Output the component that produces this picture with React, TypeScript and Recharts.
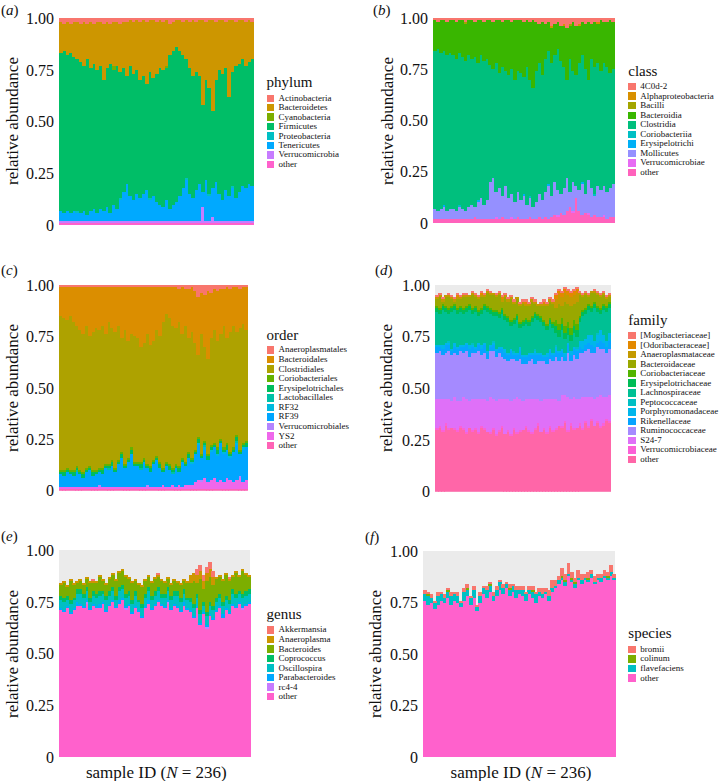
import React from 'react';
import { BarChart, Bar, XAxis, YAxis } from 'recharts';

const SERIF = 'Liberation Serif, DejaVu Serif, serif';

// 236 samples, drawn as 59 groups of four neighbouring samples
const sampleGroups = Array.from({ length: 59 }, (_, i) => `g${i + 1}`);
const yTicks = [0, 0.25, 0.5, 0.75, 1];
const yTickLabels = ['0', '0.25', '0.50', '0.75', '1.00'];

// (a) phylum, percent per sample group
const phylumActinobacteria = [2,3,2,3,2,2,3,2,3,2, 3,2,2,3,2,3,2,2,3,2, 2,1,2,1,2,1,2,1,1,2, 1,2,1,3,2,1,1,2,1,2, 1,2,1,1,2,1,1,2,1,1, 2,1,1,2,1,1,2,1,2];
const phylumBacteroidetes = [15,13,16,14,17,18,18,21,17,22, 19,23,21,27,22,19,21,21,23,22, 26,22,25,24,28,27,30,25,28,25, 23,23,22,15,14,13,15,16,19,22, 27,24,27,41,28,33,44,28,24,26, 22,37,25,21,21,19,21,20,18];
const phylumCyanobacteria = [0,0,0,0,0,0,0,0,0,0, 0,0,0,0,0,0,2,0,0,0, 0,0,0,0,0,0,0,0,0,0, 0,0,1,0,0,0,0,0,0,0, 0,0,0,0,0,0,0,0,0,0, 0,0,0,0,0,0,0,0,0];
const phylumFirmicutes = [76,78,75,77,74,73,73,70,75,69, 70,69,69,63,67,72,65,69,61,60, 52,63,61,60,57,57,51,61,57,62, 66,66,64,74,74,75,70,64,57,61, 59,57,52,42,48,51,37,49,60,61, 59,48,55,64,62,61,59,59,61];
const phylumProteobacteria = [0,0,0,0,0,1,0,0,0,0, 0,0,0,0,0,0,0,0,1,0, 0,0,0,0,0,0,0,1,0,0, 0,0,0,0,0,0,0,0,1,0, 0,0,0,0,0,1,0,0,0,0, 0,0,1,0,0,0,0,0,0];
const phylumTenericutes = [5,4,5,4,5,4,4,5,3,5, 6,4,6,5,7,4,8,6,10,14, 18,12,10,13,11,13,15,10,12,9, 8,7,10,6,8,9,12,16,20,13, 11,15,18,7,20,12,14,19,13,10, 15,12,16,11,14,17,16,18,17];
const phylumVerrucomicrobia = [1,1,1,1,1,1,1,1,1,1, 1,1,1,1,1,1,1,1,1,1, 1,1,1,1,1,1,1,1,1,1, 1,1,1,1,1,1,1,1,1,1, 1,1,1,8,1,1,3,1,1,1, 1,1,1,1,1,1,1,1,1];
const phylumOther = [1,1,1,1,1,1,1,1,1,1, 1,1,1,1,1,1,1,1,1,1, 1,1,1,1,1,1,1,1,1,1, 1,1,1,1,1,1,1,1,1,1, 1,1,1,1,1,1,1,1,1,1, 1,1,1,1,1,1,1,1,1];

// (b) class
const class4C0d2 = [1,2,1,1,2,1,1,2,1,1, 2,1,1,2,1,1,2,1,1,2, 1,1,2,1,1,2,1,1,1,2, 1,2,1,2,3,2,3,2,4,3, 2,4,3,5,3,2,4,3,2,3, 2,3,2,2,1,2,2,1,2];
const classAlphaproteobacteria = [0,0,0,0,0,0,0,0,0,0, 0,0,0,0,0,0,0,0,0,0, 0,0,0,0,0,0,0,0,0,0, 0,0,0,0,0,0,0,0,1,0, 0,0,1,0,0,0,0,1,0,0, 0,0,0,1,0,0,0,0,0];
const classBacilli = [0,0,0,0,0,0,0,0,0,0, 1,0,0,0,0,0,0,0,0,0, 0,0,0,0,0,0,0,0,0,0, 0,0,0,0,0,0,0,0,0,0, 0,0,0,0,1,0,0,0,0,0, 0,0,0,0,0,0,0,0,0];
const classBacteroidia = [15,13,16,15,16,16,17,18,16,18, 18,17,19,17,21,17,19,19,22,23, 21,26,22,25,27,23,29,25,26,27, 23,28,33,24,19,26,17,14,17,15, 13,17,20,25,16,24,24,18,16,22, 28,17,22,19,25,20,22,26,23];
const classClostridia = [77,79,76,75,76,76,75,74,74,74, 73,74,71,73,67,70,70,69,57,53, 63,56,63,56,60,61,60,59,62,57, 67,57,58,64,64,61,65,65,65,62, 69,65,59,48,65,54,54,62,62,61, 49,63,62,60,58,60,61,56,56];
const classCoriobacteriia = [0,0,0,0,0,0,0,0,1,0, 0,0,0,0,0,0,0,0,0,0, 0,0,0,0,0,0,0,0,0,0, 0,1,0,0,0,0,0,0,0,0, 0,0,0,0,0,0,0,0,0,0, 0,0,1,0,0,0,0,0,0];
const classErysipelotrichi = [0,0,0,1,0,0,0,0,0,0, 0,0,0,0,1,0,0,0,0,0, 0,0,0,0,0,0,0,0,0,1, 0,0,0,0,0,0,0,1,0,0, 0,0,0,0,0,0,0,0,1,0, 0,0,0,0,0,0,0,0,0];
const classMollicutes = [5,4,5,6,4,5,5,4,6,5, 4,6,7,5,8,10,7,9,18,20, 12,15,10,16,10,11,8,12,9,11, 7,9,6,8,11,9,12,16,10,16, 12,9,13,16,7,14,6,10,15,9, 16,14,9,15,13,14,13,14,16];
const classVerrucomicrobiae = [0,0,0,0,0,0,0,0,0,0, 0,0,0,0,0,0,0,0,0,0, 1,0,0,0,0,1,0,0,0,0, 0,0,0,0,0,0,0,0,0,0, 1,0,0,0,0,1,0,0,0,0, 1,0,0,0,0,1,0,0,0];
const classOther = [2,2,2,2,2,2,2,2,2,2, 2,2,2,3,2,2,2,2,2,2, 2,2,3,2,2,2,2,3,2,2, 2,3,2,2,3,2,3,2,3,4, 3,5,4,6,8,5,12,6,4,5, 4,3,4,3,3,3,2,3,3];

// (c) order
const orderAnaeroplasmatales = [1,1,1,1,1,1,1,1,1,1, 1,1,1,1,1,1,1,1,1,1, 1,1,1,1,1,1,1,1,1,1, 1,1,1,1,1,1,1,2,1,2, 2,1,3,6,4,5,3,4,2,3, 2,2,1,2,1,1,2,1,1];
const orderBacteroidales = [14,15,16,14,17,19,21,23,19,24, 22,20,21,19,23,17,20,22,19,25, 21,26,23,24,25,29,27,23,28,26, 21,24,17,13,15,19,20,16,23,18, 24,22,25,28,20,25,33,22,20,24, 22,18,25,21,19,22,19,18,21];
const orderClostridiales = [75,74,72,75,72,68,68,67,69,63, 67,69,67,69,63,69,64,66,65,55, 65,57,55,61,60,56,56,63,59,58, 61,61,71,72,71,69,66,70,60,66, 55,61,52,40,58,46,46,52,55,52, 51,59,51,58,59,50,59,58,54];
const orderCoriobacteriales = [1,1,1,1,1,1,1,1,1,1, 1,1,1,1,1,1,1,1,1,1, 1,1,1,1,1,1,1,1,1,1, 1,1,1,1,1,1,1,1,1,1, 1,1,1,1,1,1,1,1,1,1, 1,1,1,1,1,1,1,1,1];
const orderErysipelotrichales = [1,2,1,1,2,1,1,2,1,1, 2,1,1,2,1,1,2,1,1,2, 1,1,2,1,1,2,1,1,2,1, 1,2,1,1,2,1,1,2,1,1, 2,1,1,2,1,1,2,1,1,2, 1,1,2,1,1,2,1,1,2];
const orderLactobacillales = [0,0,0,0,0,1,0,0,0,0, 0,0,0,0,0,1,0,0,0,0, 0,0,0,0,0,1,0,0,0,0, 0,0,0,0,0,1,0,0,0,0, 0,0,0,0,0,1,0,0,0,0, 0,0,0,0,0,1,0,0,0];
const orderRF32 = [0,0,0,0,0,0,0,0,0,0, 0,0,0,0,0,0,0,0,0,0, 0,0,0,0,0,0,0,0,0,0, 0,0,0,0,0,0,0,0,0,0, 0,1,0,1,0,1,0,1,0,1, 0,1,0,1,0,1,0,1,0];
const orderRF39 = [6,5,7,6,5,7,6,4,7,8, 5,6,6,6,9,8,10,7,11,14, 9,12,16,10,10,8,12,8,7,11, 13,9,6,10,8,5,9,6,12,9, 13,10,14,17,11,14,11,14,15,13, 18,14,14,11,15,17,11,16,16];
const orderVerrucomicrobiales = [0,0,0,0,0,0,0,0,0,0, 0,0,1,0,0,0,0,0,0,0, 0,0,0,0,0,0,0,1,0,0, 0,0,0,0,0,0,0,0,0,0, 0,0,0,0,1,0,0,0,0,0, 0,0,0,0,0,0,1,0,0];
const orderYS2 = [1,1,1,1,1,1,1,1,1,1, 1,1,1,1,1,1,1,1,1,1, 1,1,1,1,1,1,1,1,1,1, 1,1,2,1,1,2,1,2,1,2, 2,2,3,4,3,5,3,4,5,3, 4,3,5,4,3,4,5,3,4];
const orderOther = [1,1,1,1,1,1,1,1,1,1, 1,1,1,1,1,1,1,1,1,1, 1,1,1,1,1,1,1,1,1,1, 1,1,1,1,1,1,1,1,1,1, 1,1,1,1,1,1,1,1,1,1, 1,1,1,1,1,1,1,1,1];

// (d) family
const familyMogibacteriaceae = [1,1,1,0,1,1,1,1,1,1, 1,0,1,1,1,1,1,1,1,0, 1,1,1,1,1,1,1,0,1,1, 1,1,1,1,0,1,1,1,1,1, 1,1,1,1,1,1,1,1,1,1, 1,1,0,1,1,1,1,1,1];
const familyOdoribacteraceae = [0,0,0,0,0,0,0,1,0,0, 0,0,0,0,0,1,0,0,0,0, 0,0,1,0,0,0,0,0,0,0, 1,0,0,0,0,0,1,0,0,0, 2,2,2,2,2,2,2,2,0,0, 0,0,0,0,0,0,0,0,0];
const familyAnaeroplasmataceae = [1,1,1,1,1,1,1,1,1,1, 1,1,1,1,1,1,1,1,1,1, 1,1,1,1,1,1,1,1,1,1, 1,1,1,1,1,1,1,1,1,1, 4,4,4,4,4,4,4,4,1,1, 1,1,1,1,1,1,1,1,1];
const familyBacteroidaceae = [3,5,1,4,5,3,1,4,3,5, 4,3,6,4,5,5,3,6,6,7, 6,8,3,8,7,10,7,7,8,8, 6,7,7,4,4,5,7,9,8,9, 6,10,6,12,9,11,8,11,10,6, 6,3,6,4,5,5,4,3,2];
const familyCoriobacteriaceae = [1,1,1,1,1,1,1,1,1,1, 1,1,1,1,1,1,1,1,1,1, 1,1,1,1,1,1,1,1,1,1, 1,1,1,1,1,1,1,1,1,1, 3,3,3,3,3,3,3,3,1,1, 1,1,1,1,1,1,1,1,1];
const familyErysipelotrichaceae = [2,2,2,2,2,2,2,2,2,2, 2,2,2,2,2,2,2,2,2,2, 2,2,2,2,2,2,2,2,2,2, 2,2,2,2,2,2,2,2,2,2, 3,3,3,3,3,3,3,3,2,2, 2,2,2,2,2,2,2,2,2];
const familyLachnospiraceae = [16,15,17,15,13,18,16,16,16,15, 15,17,14,17,13,15,16,19,15,12, 16,14,16,14,15,11,13,16,9,14, 15,13,15,15,16,15,14,11,12,12, 6,7,9,7,4,5,7,5,9,12, 12,12,11,16,10,8,12,14,12];
const familyPeptococcaceae = [0,0,0,0,1,0,0,0,0,0, 0,0,1,0,0,0,0,0,0,1, 0,0,0,0,0,0,1,0,0,0, 0,0,0,1,0,0,0,0,0,0, 1,0,0,0,0,0,0,1,0,0, 0,0,0,0,1,0,0,0,0];
const familyPorphyromonadaceae = [1,1,2,1,1,1,2,1,1,1, 1,2,1,1,1,2,1,1,1,1, 1,1,1,2,1,1,1,1,2,1, 1,1,1,2,1,1,1,2,1,1, 2,1,1,2,1,2,1,1,3,4, 3,4,5,3,4,5,4,3,4];
const familyRikenellaceae = [3,2,3,4,3,2,3,3,2,3, 3,4,3,2,3,3,4,3,2,3, 3,2,4,3,3,4,2,3,4,3, 3,3,2,4,3,3,2,3,4,3, 3,4,3,2,4,3,3,4,3,2, 3,3,4,3,2,4,3,3,4];
const familyRuminococcaceae = [22,23,21,22,23,22,21,22,24,21, 23,21,22,22,23,21,22,20,22,23, 21,22,20,19,18,20,19,17,19,18, 17,18,19,17,18,19,18,17,19,18, 20,19,18,16,21,18,20,19,22,21, 22,23,21,22,24,22,23,21,22];
const familyS247 = [14,13,15,12,14,13,15,14,12,15, 16,13,15,14,16,13,14,15,17,14, 16,15,13,17,15,16,14,17,15,14, 13,15,16,14,12,15,14,16,13,15, 14,12,15,13,16,12,15,14,12,15, 12,14,11,13,12,15,13,11,13];
const familyVerrucomicrobiaceae = [1,1,1,1,1,0,1,1,1,1, 1,0,1,1,1,1,1,0,1,1, 1,1,1,0,1,1,1,1,1,0, 1,1,1,1,1,0,1,1,1,1, 1,0,1,1,1,1,1,0,1,1, 1,1,1,0,1,1,1,1,1];
const familyOther = [30,31,29,32,30,31,30,29,31,30, 28,31,29,30,28,31,30,29,28,30, 27,29,31,28,29,27,30,28,29,30, 31,29,28,30,32,29,30,28,31,29, 30,32,31,33,29,32,30,31,32,30, 33,31,34,32,33,31,32,34,33];

// (e) genus
const genusAkkermansia = [0,0,0,0,0,0,0,0,0,0, 1,0,0,0,0,0,0,0,0,0, 0,0,0,0,0,0,0,0,0,0, 1,0,0,0,0,0,0,0,0,0, 0,0,3,3,3,3,3,3,0,0, 0,0,1,0,0,0,0,0,0];
const genusAnaeroplasma = [1,1,1,1,1,1,1,1,1,1, 1,1,1,1,1,1,1,1,1,1, 1,1,1,1,1,1,1,1,1,1, 1,1,1,1,1,1,1,1,1,1, 4,4,4,4,4,4,4,4,1,1, 1,1,1,1,1,1,1,1,1];
const genusBacteroides = [5,7,4,9,6,3,4,4,4,7, 4,5,7,5,5,6,6,7,7,7, 8,6,8,5,7,8,6,5,6,6, 5,6,5,4,5,5,4,6,4,7, 7,11,5,15,6,15,12,10,9,8, 10,10,9,6,10,7,11,8,6];
const genusCoprococcus = [2,2,2,2,1,2,2,2,2,2, 2,2,2,1,2,2,2,2,2,2, 2,2,2,2,1,2,2,2,2,2, 2,2,2,2,2,2,2,2,2,1, 2,2,2,2,2,2,2,2,2,2, 2,2,2,2,2,1,2,2,2];
const genusOscillospira = [4,4,3,4,4,4,5,4,4,3, 4,4,4,4,5,4,4,3,4,4, 4,4,4,5,4,4,4,4,4,4, 4,3,4,4,4,4,5,4,4,4, 4,4,4,4,3,4,4,4,4,4, 4,4,4,5,4,4,4,4,4];
const genusParabacteroides = [1,1,1,1,1,2,1,1,1,1, 1,1,2,1,1,1,1,1,2,1, 1,1,1,1,1,1,1,2,1,1, 1,1,1,1,1,1,1,1,2,1, 1,1,1,1,1,1,1,1,1,1, 2,1,1,1,1,1,1,1,1];
const genusRc44 = [0,0,0,0,0,0,0,0,1,0, 0,0,0,0,0,0,0,0,0,0, 1,0,0,0,0,0,0,0,0,0, 0,0,0,1,0,0,0,0,0,0, 0,0,0,0,0,1,0,0,0,0, 0,0,0,0,0,0,1,0,0];
const genusOther = [71,70,72,69,71,73,73,72,74,71, 73,72,72,74,70,73,75,72,74,76, 71,73,69,72,70,67,72,74,71,73, 75,73,72,74,71,73,72,70,73,71, 70,67,72,64,69,62,68,66,70,72, 67,71,69,73,72,74,71,73,74];

// (f) species
const speciesBromii = [2,1,2,1,2,1,2,1,2,1, 2,1,2,2,1,2,1,2,1,2, 1,2,2,1,2,1,2,1,2,2, 2,1,2,2,1,2,3,2,3,4, 3,2,4,3,5,3,2,4,3,2, 3,2,3,2,2,3,2,3,2];
const speciesColinum = [0,1,0,0,0,0,0,1,0,0, 0,0,0,1,0,0,0,0,0,0, 1,0,0,0,0,0,1,0,0,0, 0,0,0,1,0,0,0,0,0,0, 0,0,1,1,0,1,1,0,0,0, 1,0,0,0,0,0,1,0,0];
const speciesFlavefaciens = [3,4,2,3,4,3,2,3,4,3, 3,2,4,3,3,4,2,3,3,4, 3,2,3,4,3,2,3,3,4,2, 3,3,2,3,4,2,2,1,2,2, 1,2,1,2,1,1,2,1,2,1, 1,2,1,1,2,1,1,2,1];
const speciesOther = [76,74,75,72,74,76,75,77,74,76, 75,73,76,78,74,77,71,75,79,77, 80,76,78,81,79,82,78,80,77,79, 78,76,79,77,75,78,77,79,76,80, 82,84,86,83,88,85,82,86,84,86, 85,87,84,86,85,87,86,88,86];

type Layer = { name: string; color: string; values: number[] };

const phylumLayers: Layer[] = [
  { name: 'Actinobacteria', color: '#F8766D', values: phylumActinobacteria },
  { name: 'Bacteroidetes', color: '#CD9600', values: phylumBacteroidetes },
  { name: 'Cyanobacteria', color: '#7CAE00', values: phylumCyanobacteria },
  { name: 'Firmicutes', color: '#00BE67', values: phylumFirmicutes },
  { name: 'Proteobacteria', color: '#00BFC4', values: phylumProteobacteria },
  { name: 'Tenericutes', color: '#00A9FF', values: phylumTenericutes },
  { name: 'Verrucomicrobia', color: '#C77CFF', values: phylumVerrucomicrobia },
  { name: 'other', color: '#FF61CC', values: phylumOther },
];

const classLayers: Layer[] = [
  { name: '4C0d-2', color: '#F8766D', values: class4C0d2 },
  { name: 'Alphaproteobacteria', color: '#D89000', values: classAlphaproteobacteria },
  { name: 'Bacilli', color: '#A3A500', values: classBacilli },
  { name: 'Bacteroidia', color: '#39B600', values: classBacteroidia },
  { name: 'Clostridia', color: '#00BF7D', values: classClostridia },
  { name: 'Coriobacteriia', color: '#00BFC4', values: classCoriobacteriia },
  { name: 'Erysipelotrichi', color: '#00B0F6', values: classErysipelotrichi },
  { name: 'Mollicutes', color: '#9590FF', values: classMollicutes },
  { name: 'Verrucomicrobiae', color: '#E76BF3', values: classVerrucomicrobiae },
  { name: 'other', color: '#FF62BC', values: classOther },
];

const orderLayers: Layer[] = [
  { name: 'Anaeroplasmatales', color: '#F8766D', values: orderAnaeroplasmatales },
  { name: 'Bacteroidales', color: '#DB8E00', values: orderBacteroidales },
  { name: 'Clostridiales', color: '#AEA200', values: orderClostridiales },
  { name: 'Coriobacteriales', color: '#64B200', values: orderCoriobacteriales },
  { name: 'Erysipelotrichales', color: '#00BD5C', values: orderErysipelotrichales },
  { name: 'Lactobacillales', color: '#00C1A7', values: orderLactobacillales },
  { name: 'RF32', color: '#00BADE', values: orderRF32 },
  { name: 'RF39', color: '#00A6FF', values: orderRF39 },
  { name: 'Verrucomicrobiales', color: '#B385FF', values: orderVerrucomicrobiales },
  { name: 'YS2', color: '#EF67EB', values: orderYS2 },
  { name: 'other', color: '#FF63B6', values: orderOther },
];

const familyLayers: Layer[] = [
  { name: '[Mogibacteriaceae]', color: '#F8766D', values: familyMogibacteriaceae },
  { name: '[Odoribacteraceae]', color: '#E38900', values: familyOdoribacteraceae },
  { name: 'Anaeroplasmataceae', color: '#C49A00', values: familyAnaeroplasmataceae },
  { name: 'Bacteroidaceae', color: '#99A800', values: familyBacteroidaceae },
  { name: 'Coriobacteriaceae', color: '#53B400', values: familyCoriobacteriaceae },
  { name: 'Erysipelotrichaceae', color: '#00BC56', values: familyErysipelotrichaceae },
  { name: 'Lachnospiraceae', color: '#00C094', values: familyLachnospiraceae },
  { name: 'Peptococcaceae', color: '#00BFC4', values: familyPeptococcaceae },
  { name: 'Porphyromonadaceae', color: '#00B6EB', values: familyPorphyromonadaceae },
  { name: 'Rikenellaceae', color: '#06A4FF', values: familyRikenellaceae },
  { name: 'Ruminococcaceae', color: '#A58AFF', values: familyRuminococcaceae },
  { name: 'S24-7', color: '#DF70F8', values: familyS247 },
  { name: 'Verrucomicrobiaceae', color: '#FB61D7', values: familyVerrucomicrobiaceae },
  { name: 'other', color: '#FF66A8', values: familyOther },
];

const genusLayers: Layer[] = [
  { name: 'Akkermansia', color: '#F8766D', values: genusAkkermansia },
  { name: 'Anaeroplasma', color: '#CD9600', values: genusAnaeroplasma },
  { name: 'Bacteroides', color: '#7CAE00', values: genusBacteroides },
  { name: 'Coprococcus', color: '#00BE67', values: genusCoprococcus },
  { name: 'Oscillospira', color: '#00BFC4', values: genusOscillospira },
  { name: 'Parabacteroides', color: '#00A9FF', values: genusParabacteroides },
  { name: 'rc4-4', color: '#C77CFF', values: genusRc44 },
  { name: 'other', color: '#FF61CC', values: genusOther },
];

const speciesLayers: Layer[] = [
  { name: 'bromii', color: '#F8766D', values: speciesBromii },
  { name: 'colinum', color: '#7CAE00', values: speciesColinum },
  { name: 'flavefaciens', color: '#00BFC4', values: speciesFlavefaciens },
  { name: 'other', color: '#FF61CC', values: speciesOther },
];

function buildRows(layers: Layer[]) {
  return sampleGroups.map((g, i) => {
    const row: Record<string, number | string> = { sample: g };
    layers.forEach((l) => {
      row[l.name] = l.values[i] / 100;
    });
    return row;
  });
}

const BarShape = (p: any) => {
  if (!p.height || p.height <= 0) return null;
  return (
    <rect x={p.x} y={p.y} width={p.width + 0.6} height={p.height} fill={p.fill} shapeRendering="crispEdges" />
  );
};

type PanelProps = {
  tag: string;
  title: string;
  layers: Layer[];
  plot: { x: number; y: number; w: number; h: number };
  tagX: number;
  tagY: number;
  yLabelX: number;
  legendX: number;
  legendTitleY: number;
  legendFirstY: number;
  legendStep: number;
  xLabel?: boolean;
};

function Panel(p: PanelProps) {
  const rows = buildRows(p.layers);
  const yw = 56;
  const band = p.plot.w / sampleGroups.length;
  const text = { position: 'absolute' as const, fontFamily: SERIF, color: '#111', whiteSpace: 'nowrap' as const, lineHeight: 1 };
  return (
    <>
      <div style={{ ...text, left: p.tagX, top: p.tagY, fontSize: 15, transform: 'translateY(-50%)' }}>
        (<i>{p.tag}</i>)
      </div>
      <div style={{ position: 'absolute', left: p.plot.x, top: p.plot.y, width: p.plot.w, height: p.plot.h, background: '#EBEBEB' }} />
      <div style={{ position: 'absolute', left: p.plot.x - yw, top: p.plot.y - 10 }}>
        <BarChart
          width={yw + p.plot.w + 2}
          height={p.plot.h + 20}
          data={rows}
          margin={{ top: 10, right: 2, bottom: 10, left: 0 }}
          barCategoryGap={0}
          barGap={0}
          barSize={band - 0.01}
        >
          <XAxis dataKey="sample" hide />
          <YAxis
            width={yw}
            domain={[0, 1]}
            ticks={yTicks}
            interval={0}
            allowDataOverflow
            axisLine={false}
            tickLine={false}
            tickSize={0}
            tickMargin={5}
            tick={{ fill: '#111', fontSize: 16, fontFamily: SERIF }}
            tickFormatter={(v: number) => yTickLabels[yTicks.indexOf(v)]}
          />
          {[...p.layers].reverse().map((l) => (
            <Bar key={l.name} dataKey={l.name} stackId="s" fill={l.color} shape={BarShape} isAnimationActive={false} />
          ))}
        </BarChart>
      </div>
      <div
        style={{
          ...text,
          left: p.yLabelX,
          top: p.plot.y + p.plot.h / 2,
          fontSize: 17,
          transform: 'translate(-50%, -50%) rotate(-90deg)',
        }}
      >
        relative abundance
      </div>
      {p.xLabel && (
        <div style={{ ...text, left: p.plot.x + p.plot.w / 2 + 2, top: 772, fontSize: 17, transform: 'translate(-50%, -50%)' }}>
          sample ID (<i>N</i> = 236)
        </div>
      )}
      <div style={{ ...text, left: p.legendX, top: p.legendTitleY, fontSize: 15, transform: 'translateY(-50%)' }}>{p.title}</div>
      {p.layers.map((l, i) => (
        <div
          key={l.name}
          style={{
            ...text,
            left: p.legendX,
            top: p.legendFirstY + i * p.legendStep - p.legendStep / 2,
            height: p.legendStep,
            display: 'flex',
            alignItems: 'center',
            fontSize: 9,
          }}
        >
          <span style={{ display: 'inline-block', width: 7.5, height: 7.5, background: l.color, marginRight: 4.5 }} />
          <span>{l.name}</span>
        </div>
      ))}
    </>
  );
}

export default function App() {
  return (
    <div style={{ position: 'absolute', left: 0, top: 0, width: 719, height: 781, background: '#fff', overflow: 'hidden' }}>
      <Panel tag="a" title="phylum" layers={phylumLayers} plot={{ x: 58.7, y: 17.7, w: 194.6, h: 207.3 }}
        tagX={1} tagY={10} yLabelX={12} legendX={266.5} legendTitleY={81.5} legendFirstY={98.3} legendStep={9.43} />
      <Panel tag="b" title="class" layers={classLayers} plot={{ x: 432.7, y: 18.3, w: 181.3, h: 205 }}
        tagX={373} tagY={10} yLabelX={386.5} legendX={628.3} legendTitleY={71} legendFirstY={86.7} legendStep={9.52} />
      <Panel tag="c" title="order" layers={orderLayers} plot={{ x: 58.7, y: 285.3, w: 188.6, h: 205.7 }}
        tagX={1} tagY={270} yLabelX={12} legendX={266.5} legendTitleY={335} legendFirstY={350} legendStep={9.57} />
      <Panel tag="d" title="family" layers={familyLayers} plot={{ x: 435, y: 285, w: 175.7, h: 206.7 }}
        tagX={375} tagY={270} yLabelX={386} legendX={628.3} legendTitleY={320} legendFirstY={335.7} legendStep={9.51} />
      <Panel tag="e" title="genus" layers={genusLayers} plot={{ x: 58.7, y: 550, w: 191.3, h: 207.3 }}
        tagX={1} tagY={535.7} yLabelX={12} legendX={266.5} legendTitleY={614} legendFirstY={630} legendStep={9.52} xLabel />
      <Panel tag="f" title="species" layers={speciesLayers} plot={{ x: 422.7, y: 551, w: 192.6, h: 206.3 }}
        tagX={365} tagY={536.7} yLabelX={375} legendX={628.3} legendTitleY={633.3} legendFirstY={649.3} legendStep={9.6} xLabel />
    </div>
  );
}
